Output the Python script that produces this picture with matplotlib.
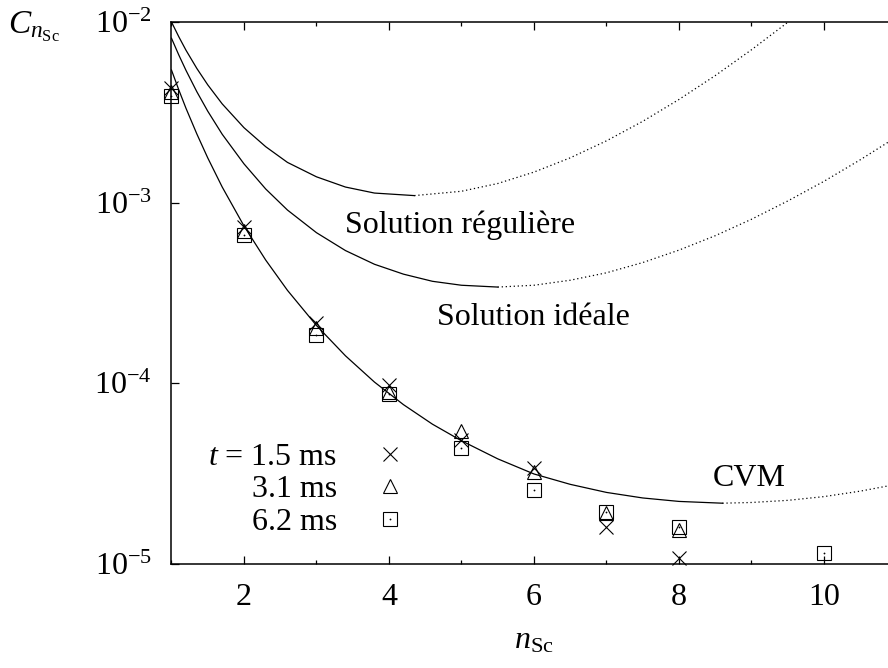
import numpy as np
import matplotlib
matplotlib.use('Agg')
import matplotlib.pyplot as plt
from matplotlib.legend_handler import HandlerTuple
from matplotlib.ticker import MultipleLocator, LogLocator, NullLocator

plt.rcParams['font.family'] = ['Liberation Serif', 'DejaVu Serif']
plt.rcParams['mathtext.fontset'] = 'custom'
plt.rcParams['mathtext.rm'] = 'Liberation Serif'
plt.rcParams['mathtext.it'] = 'Liberation Serif:italic'
plt.rcParams['mathtext.bf'] = 'Liberation Serif:bold'

# Measured cluster concentrations (x = n_Sc)
n_meas = [1, 2, 3, 4, 5, 6, 7, 8]
c_t15 = [4.30e-3, 7.36e-4, 2.15e-4, 9.8e-5, 4.87e-5, 3.40e-5, 1.60e-5, 1.08e-5]
c_t31 = [4.11e-3, 7.0e-4, 2.03e-4, 9.0e-5, 5.47e-5, 3.21e-5, 1.92e-5, 1.55e-5]
n_t62 = [1, 2, 3, 4, 5, 6, 7, 8, 10]
c_t62 = [3.91e-3, 6.62e-4, 1.85e-4, 8.73e-5, 4.38e-5, 2.57e-5, 1.95e-5, 1.60e-5, 1.15e-5]

# "Solution reguliere" curve (solid part, then dotted continuation)
reg_x = [1.0, 1.1, 1.2, 1.35, 1.5, 1.7, 2.0, 2.3, 2.6, 3.0, 3.4, 3.8, 4.35]
reg_y = [1.00e-2, 8.30e-3, 6.98e-3, 5.53e-3, 4.49e-3, 3.52e-3, 2.60e-3, 2.04e-3,
         1.67e-3, 1.39e-3, 1.22e-3, 1.13e-3, 1.094e-3]
reg_dx = [4.35, 5.0, 5.5, 6.0, 6.5, 7.0, 7.5, 8.0, 8.5, 9.0, 9.5, 9.7]
reg_dy = [1.094e-3, 1.156e-3, 1.276e-3, 1.476e-3, 1.770e-3, 2.198e-3, 2.818e-3,
          3.724e-3, 5.047e-3, 7.015e-3, 9.95e-3, 1.153e-2]

# "Solution ideale" curve
ide_x = [1.0, 1.1, 1.2, 1.35, 1.5, 1.7, 2.0, 2.3, 2.6, 3.0, 3.4, 3.8, 4.2, 4.6,
         5.0, 5.5]
ide_y = [8.13e-3, 6.58e-3, 5.40e-3, 4.11e-3, 3.21e-3, 2.39e-3, 1.64e-3, 1.19e-3,
         9.10e-4, 6.82e-4, 5.43e-4, 4.56e-4, 4.02e-4, 3.67e-4, 3.49e-4, 3.41e-4]
ide_dx = [5.5, 6.0, 6.5, 7.0, 7.5, 8.0, 8.5, 9.0, 9.5, 10.0, 10.5, 11.0]
ide_dy = [3.41e-4, 3.49e-4, 3.72e-4, 4.09e-4, 4.66e-4, 5.46e-4, 6.56e-4, 8.09e-4,
          1.021e-3, 1.312e-3, 1.726e-3, 2.31e-3]

# CVM curve
cvm_x = [1.0, 1.1, 1.2, 1.35, 1.5, 1.7, 2.0, 2.3, 2.6, 3.0, 3.4, 3.8, 4.2, 4.6,
         5.0, 5.5, 6.0, 6.5, 7.0, 7.5, 8.0, 8.6]
cvm_y = [5.42e-3, 4.22e-3, 3.33e-3, 2.40e-3, 1.77e-3, 1.22e-3, 7.43e-4, 4.81e-4,
         3.27e-4, 2.09e-4, 1.42e-4, 1.016e-4, 7.62e-5, 5.94e-5, 4.81e-5, 3.82e-5,
         3.15e-5, 2.76e-5, 2.49e-5, 2.32e-5, 2.22e-5, 2.17e-5]
cvm_dx = [8.6, 9.0, 9.5, 10.0, 10.5, 11.0]
cvm_dy = [2.17e-5, 2.19e-5, 2.25e-5, 2.36e-5, 2.53e-5, 2.76e-5]

fig = plt.figure(figsize=(8.88, 6.68), dpi=100)
ax = fig.add_axes([0.1931, 0.1557, 0.8164, 0.8114])

lw = 0.9
dot = (0, (1.0, 2.2))
for x, y, dx, dy in [(reg_x, reg_y, reg_dx, reg_dy),
                     (ide_x, ide_y, ide_dx, ide_dy),
                     (cvm_x, cvm_y, cvm_dx, cvm_dy)]:
    ax.plot(x, y, color='black', lw=lw)
    ax.plot(dx, dy, color='black', lw=lw, linestyle=dot)

ms = 9.4
mew = 0.8
h1, = ax.plot(n_meas, c_t15, linestyle='none', marker='x', ms=ms, mew=mew,
              color='black', clip_on=False)
h2, = ax.plot(n_meas, c_t31, linestyle='none', marker='^', ms=ms, mew=mew,
              mfc='none', mec='black', clip_on=False)
h3, = ax.plot(n_t62, c_t62, linestyle='none', marker='s', ms=ms, mew=mew,
              mfc='none', mec='black', clip_on=False)
h3d, = ax.plot(n_t62, c_t62, linestyle='none', marker='o', ms=1.3, mew=0,
               color='black', clip_on=False)

ax.set_yscale('log')
ax.set_xlim(1, 11)
ax.set_ylim(1e-5, 1e-2)

ax.xaxis.set_major_locator(MultipleLocator(2))
ax.xaxis.set_minor_locator(MultipleLocator(1))
ax.yaxis.set_major_locator(LogLocator(base=10, numticks=10))
ax.yaxis.set_minor_locator(NullLocator())
ax.tick_params(which='both', direction='in', top=True, right=True, width=0.9,
               labelsize=23)
ax.tick_params(which='major', length=6, pad=14)
ax.tick_params(which='minor', length=3)
for s in ax.spines.values():
    s.set_linewidth(1.1)

ax.set_xlabel(r'$n_{\mathrm{Sc}}$', fontsize=23, labelpad=10)
ax.set_ylabel(r'$C_{n_{\mathrm{Sc}}}$', fontsize=24, rotation=0,
              ha='center', va='center')
ax.yaxis.set_label_coords(-0.19, 0.99)

fs = 23
ax.text(3.393, 10**-3.168, 'Solution régulière', fontsize=fs, va='baseline')
ax.text(4.668, 10**-3.677, 'Solution idéale', fontsize=fs, va='baseline')
ax.text(8.469, 10**-4.570, 'CVM', fontsize=fs, va='baseline')

leg = ax.legend([h1, h2, (h3, h3d)],
                [r'$t$ = 1.5 ms', '3.1 ms', '6.2 ms'],
                handler_map={tuple: HandlerTuple(ndivide=1, pad=0)},
                loc='upper right', bbox_to_anchor=(0.3234, 0.224),
                frameon=False, markerfirst=False, fontsize=fs,
                handlelength=1.0, handletextpad=1.15, labelspacing=0.1,
                borderpad=0, borderaxespad=0)
for col in leg._legend_box._children[-1]._children:
    col.align = 'right'

fig.savefig('out.png', dpi=100)
